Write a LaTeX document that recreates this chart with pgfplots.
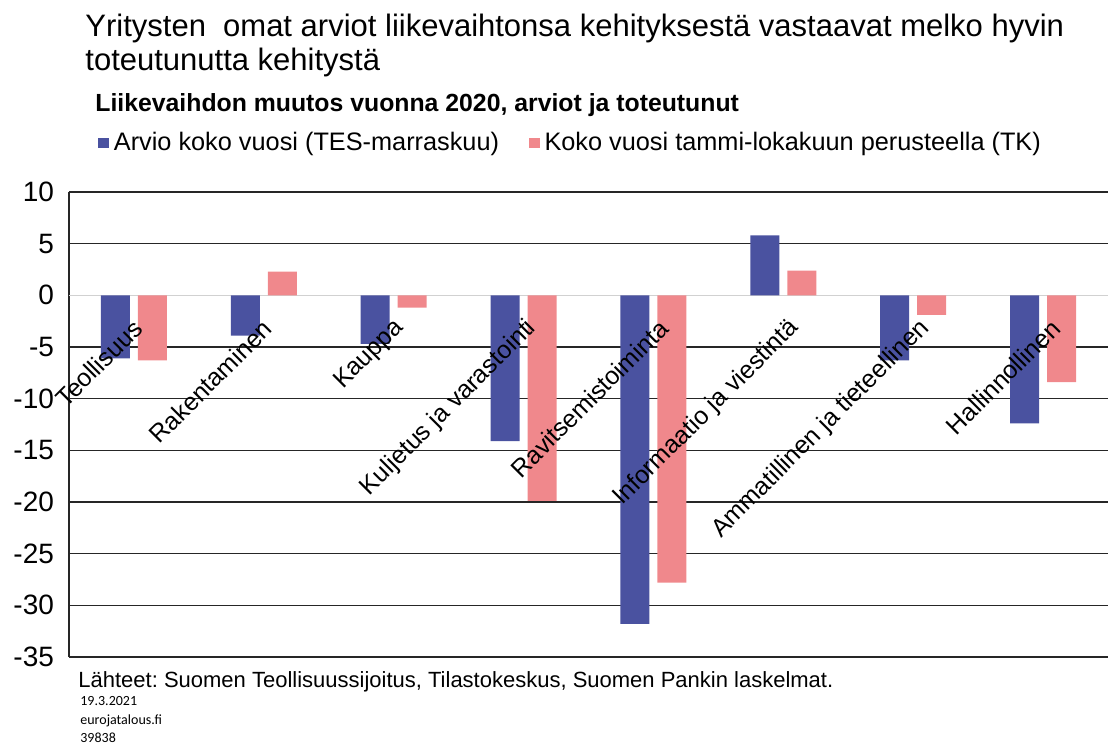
\documentclass[border=0pt]{standalone}
\usepackage{fontspec}
\setmainfont{Liberation Sans}
\newfontfamily\carlito{Carlito}
\usepackage{pgfplots}
\pgfplotsset{compat=1.18}
\definecolor{arvio}{RGB}{74,82,160}
\definecolor{toteutunut}{RGB}{240,136,140}
\frenchspacing

\begin{document}
\begin{tikzpicture}
\useasboundingbox (0pt,0pt) rectangle (554pt,372pt);
\begin{axis}[
    at={(34.5pt,43.5pt)}, anchor=south west,
    scale only axis, width=519.5pt, height=232.5pt,
    ybar=4pt, bar width=14.5pt,
    xmin=-0.5, xmax=7.5, ymin=-35, ymax=10,
    xtick=\empty,
    ytick={-35,-30,-25,-20,-15,-10,-5,5,10},
    extra y ticks={0},
    extra y tick style={grid style={draw=black!18, line width=0.8pt}},
    ymajorgrids,
    grid style={draw=black!85, line width=0.75pt},
    axis x line=none, axis y line*=left,
    y axis line style={-, line width=0.75pt, draw=black!85},
    major tick length=0pt,
    tick label style={font=\fontsize{14}{16}\selectfont},
    /pgf/number format/assume math mode=true,
    yticklabel style={xshift=-4pt},
    clip=false,
    legend columns=2,
    legend cell align=left,
    legend image code/.code={\draw[#1,draw=none] (0pt,-2.6pt) rectangle (5.2pt,2.6pt);},
    legend style={at={(0.028,1.105)}, anchor=west, draw=none, fill=none,
        inner sep=0pt, font=\fontsize{12.65}{15}\selectfont,
        nodes={inner sep=0pt},
        /tikz/every odd column/.append style={column sep=2.5pt},
        /tikz/every even column/.append style={column sep=15pt}},
]
\addplot[fill=arvio, draw=none] coordinates {
    (0,-6.1) (1,-3.9) (2,-4.7) (3,-14.1) (4,-31.8) (5,5.8) (6,-6.3) (7,-12.4)
};
\addlegendentry{Arvio koko vuosi (TES-marraskuu)}
\addplot[fill=toteutunut, draw=none] coordinates {
    (0,-6.3) (1,2.3) (2,-1.2) (3,-19.9) (4,-27.8) (5,2.4) (6,-1.9) (7,-8.4)
};
\addlegendentry{Koko vuosi tammi-lokakuun perusteella (TK)}

\begin{scope}[every node/.style={rotate=45, anchor=east, inner sep=0pt, font=\fontsize{12.5}{15}\selectfont}]
\node at (axis cs:0.03,-2.8) {Teollisuus};
\node at (axis cs:1.03,-2.8) {Rakentaminen};
\node at (axis cs:2.05,-2.8) {Kauppa};
\node at (axis cs:3.07,-2.8) {Kuljetus ja varastointi};
\node at (axis cs:4.08,-2.8) {Ravitsemistoiminta};
\node at (axis cs:5.09,-2.8) {Informaatio ja viestintä};
\node at (axis cs:6.1,-2.8) {Ammatillinen ja tieteellinen};
\node at (axis cs:7.1,-2.8) {Hallinnollinen};
\end{scope}
\end{axis}

\node[anchor=base west, inner sep=0pt, font=\fontsize{15.5}{17}\selectfont] at (42.5pt,353.5pt) {Yritysten\ \ omat arviot liikevaihtonsa kehityksestä vastaavat melko hyvin};
\node[anchor=base west, inner sep=0pt, font=\fontsize{15.5}{17}\selectfont] at (42.5pt,336.5pt) {toteutunutta kehitystä};
\node[anchor=base west, inner sep=0pt, font=\bfseries\fontsize{12.4}{14}\selectfont] at (47.5pt,316pt) {Liikevaihdon muutos vuonna 2020, arviot ja toteutunut};
\node[anchor=base west, inner sep=0pt, font=\fontsize{11}{13}\selectfont] at (39pt,28pt) {Lähteet: Suomen Teollisuussijoitus, Tilastokeskus, Suomen Pankin laskelmat.};
\node[anchor=base west, inner sep=0pt, font=\carlito\fontsize{7}{8}\selectfont] at (40pt,19.5pt) {19.3.2021};
\node[anchor=base west, inner sep=0pt, font=\carlito\fontsize{7}{8}\selectfont] at (40pt,9.5pt) {eurojatalous.fi};
\node[anchor=base west, inner sep=0pt, font=\carlito\fontsize{7}{8}\selectfont] at (40pt,1pt) {39838};
\end{tikzpicture}
\end{document}
